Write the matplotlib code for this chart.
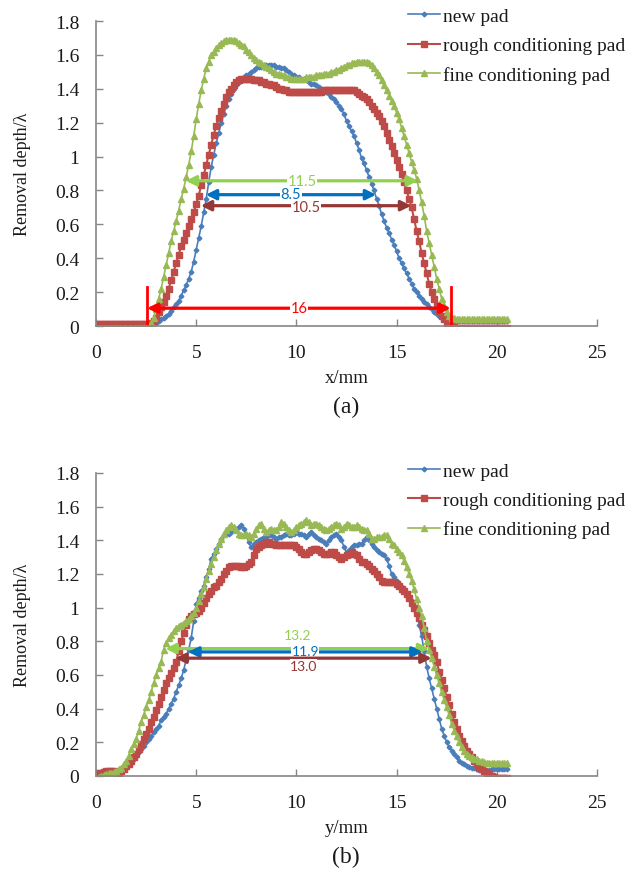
import numpy as np
import matplotlib
matplotlib.use("Agg")
import matplotlib.pyplot as plt

plt.rcParams['font.family'] = ['Liberation Serif', 'DejaVu Serif']

# ---------------- data ----------------
x_mm = np.arange(0, 20.501, 0.125)   # sampling positions (mm), 165 points

a_new = [0.01, 0.01, 0.01, 0.01, 0.01, 0.01, 0.01, 0.01,
         0.01, 0.01, 0.01, 0.01, 0.01, 0.01, 0.01, 0.01,
         0.01, 0.01, 0.01, 0.01, 0.01, 0.01, 0.01, 0.015,
         0.02, 0.03, 0.04, 0.05, 0.06, 0.07, 0.09, 0.11,
         0.13, 0.15, 0.18, 0.21, 0.24, 0.28, 0.32, 0.38,
         0.45, 0.52, 0.59, 0.67, 0.75, 0.85, 0.94, 1.01,
         1.08, 1.14, 1.20, 1.25, 1.30, 1.34, 1.37, 1.40,
         1.42, 1.44, 1.45, 1.47, 1.48, 1.49, 1.50, 1.51,
         1.52, 1.53, 1.53, 1.54, 1.54, 1.54, 1.54, 1.54,
         1.53, 1.53, 1.52, 1.52, 1.51, 1.50, 1.49, 1.48,
         1.47, 1.47, 1.46, 1.46, 1.45, 1.44, 1.43, 1.43,
         1.42, 1.41, 1.40, 1.39, 1.38, 1.37, 1.35, 1.34,
         1.32, 1.30, 1.28, 1.25, 1.21, 1.18, 1.15, 1.12,
         1.08, 1.04, 0.99, 0.96, 0.92, 0.88, 0.84, 0.80,
         0.75, 0.71, 0.66, 0.62, 0.58, 0.55, 0.51, 0.48,
         0.44, 0.40, 0.37, 0.34, 0.31, 0.28, 0.25, 0.22,
         0.20, 0.18, 0.16, 0.14, 0.13, 0.11, 0.10, 0.08,
         0.07, 0.06, 0.05, 0.045, 0.04, 0.035, 0.03, 0.03,
         0.03, 0.03, 0.03, 0.03, 0.03, 0.03, 0.03, 0.03,
         0.03, 0.03, 0.03, 0.03, 0.03, 0.03, 0.03, 0.03,
         0.03, 0.03, 0.03, 0.03, 0.03]
a_rough = [0.01, 0.01, 0.01, 0.01, 0.01, 0.01, 0.01, 0.01,
           0.01, 0.01, 0.01, 0.01, 0.01, 0.01, 0.01, 0.01,
           0.01, 0.01, 0.01, 0.01, 0.01, 0.01, 0.02, 0.03,
           0.05, 0.08, 0.11, 0.14, 0.18, 0.22, 0.27, 0.32,
           0.37, 0.42, 0.47, 0.51, 0.55, 0.59, 0.63, 0.67,
           0.72, 0.77, 0.83, 0.89, 0.95, 1.01, 1.07, 1.13,
           1.18, 1.23, 1.27, 1.31, 1.35, 1.38, 1.40, 1.42,
           1.44, 1.45, 1.46, 1.46, 1.46, 1.46, 1.46, 1.45,
           1.45, 1.45, 1.44, 1.44, 1.43, 1.43, 1.42, 1.42,
           1.41, 1.40, 1.40, 1.39, 1.39, 1.38, 1.38, 1.38,
           1.38, 1.38, 1.38, 1.38, 1.38, 1.38, 1.38, 1.38,
           1.38, 1.38, 1.38, 1.39, 1.39, 1.39, 1.39, 1.39,
           1.39, 1.39, 1.39, 1.39, 1.39, 1.39, 1.39, 1.39,
           1.38, 1.37, 1.36, 1.35, 1.34, 1.32, 1.30, 1.28,
           1.26, 1.24, 1.21, 1.18, 1.14, 1.10, 1.06, 1.02,
           0.98, 0.94, 0.90, 0.85, 0.80, 0.75, 0.70, 0.63,
           0.56, 0.50, 0.43, 0.37, 0.31, 0.25, 0.20, 0.16,
           0.12, 0.09, 0.06, 0.04, 0.02, 0.01, 0.00, -0.005,
           -0.01, -0.01, -0.01, -0.01, -0.01, -0.01, -0.01, -0.01,
           -0.01, -0.01, -0.01, -0.01, -0.01, -0.01, -0.01, -0.01,
           -0.01, -0.01, -0.01, -0.01, -0.01]
a_fine = [-0.01, -0.01, -0.01, -0.01, -0.01, -0.01, -0.01, -0.01,
          -0.01, -0.01, -0.01, -0.01, -0.01, -0.01, -0.01, -0.01,
          -0.01, -0.01, -0.01, -0.01, -0.01, -0.005, 0.02, 0.05,
          0.10, 0.16, 0.22, 0.29, 0.36, 0.43, 0.50, 0.56,
          0.62, 0.68, 0.75, 0.81, 0.88, 0.95, 1.03, 1.12,
          1.22, 1.31, 1.39, 1.46, 1.52, 1.56, 1.60, 1.62,
          1.64, 1.66, 1.67, 1.68, 1.69, 1.69, 1.69, 1.69,
          1.68, 1.67, 1.66, 1.65, 1.63, 1.62, 1.60, 1.58,
          1.57, 1.56, 1.55, 1.54, 1.53, 1.52, 1.51, 1.50,
          1.49, 1.49, 1.48, 1.48, 1.47, 1.47, 1.46, 1.46,
          1.46, 1.46, 1.46, 1.46, 1.47, 1.47, 1.47, 1.47,
          1.48, 1.48, 1.48, 1.49, 1.49, 1.49, 1.50, 1.50,
          1.51, 1.51, 1.52, 1.53, 1.54, 1.54, 1.55, 1.55,
          1.56, 1.56, 1.56, 1.56, 1.56, 1.55, 1.54, 1.52,
          1.50, 1.48, 1.45, 1.42, 1.39, 1.36, 1.33, 1.30,
          1.26, 1.22, 1.17, 1.12, 1.07, 1.02, 0.97, 0.92,
          0.87, 0.80, 0.73, 0.65, 0.56, 0.49, 0.42, 0.35,
          0.28, 0.22, 0.16, 0.12, 0.08, 0.06, 0.05, 0.045,
          0.04, 0.04, 0.04, 0.04, 0.04, 0.04, 0.04, 0.04,
          0.04, 0.04, 0.04, 0.04, 0.04, 0.04, 0.04, 0.04,
          0.04, 0.04, 0.04, 0.04, 0.04]

b_new = [0.01, 0.01, 0.01, 0.01, 0.01, 0.015, 0.02, 0.02,
         0.02, 0.025, 0.03, 0.04, 0.06, 0.07, 0.09, 0.10,
         0.12, 0.14, 0.16, 0.18, 0.20, 0.22, 0.24, 0.26,
         0.28, 0.30, 0.33, 0.35, 0.37, 0.40, 0.43, 0.46,
         0.50, 0.54, 0.58, 0.63, 0.69, 0.75, 0.82, 0.92,
         1.02, 1.06, 1.10, 1.13, 1.18, 1.23, 1.29, 1.32,
         1.35, 1.38, 1.41, 1.43, 1.44, 1.44, 1.45, 1.46,
         1.47, 1.48, 1.49, 1.47, 1.43, 1.39, 1.36, 1.38,
         1.39, 1.40, 1.41, 1.42, 1.42, 1.43, 1.43, 1.42,
         1.41, 1.42, 1.42, 1.43, 1.44, 1.43, 1.43, 1.44,
         1.45, 1.44, 1.44, 1.43, 1.42, 1.44, 1.45, 1.43,
         1.42, 1.41, 1.40, 1.39, 1.38, 1.40, 1.42, 1.43,
         1.44, 1.42, 1.40, 1.36, 1.33, 1.34, 1.36, 1.37,
         1.37, 1.38, 1.38, 1.40, 1.42, 1.40, 1.38, 1.36,
         1.34, 1.33, 1.32, 1.31, 1.29, 1.25, 1.20, 1.18,
         1.16, 1.14, 1.12, 1.10, 1.08, 1.06, 1.04, 1.01,
         0.97, 0.90, 0.83, 0.74, 0.65, 0.58, 0.52, 0.46,
         0.40, 0.34, 0.28, 0.24, 0.20, 0.17, 0.15, 0.13,
         0.11, 0.09, 0.08, 0.07, 0.06, 0.055, 0.05, 0.045,
         0.04, 0.035, 0.03, 0.03, 0.03, 0.035, 0.04, 0.04,
         0.04, 0.04, 0.04, 0.04, 0.04]
b_rough = [0.01, 0.015, 0.02, 0.025, 0.03, 0.03, 0.03, 0.03,
           0.02, 0.02, 0.03, 0.04, 0.06, 0.07, 0.09, 0.11,
           0.13, 0.16, 0.19, 0.22, 0.25, 0.28, 0.32, 0.35,
           0.39, 0.43, 0.47, 0.51, 0.55, 0.58, 0.61, 0.64,
           0.68, 0.74, 0.80, 0.85, 0.90, 0.93, 0.95, 0.96,
           0.97, 0.98, 1.00, 1.03, 1.06, 1.08, 1.10, 1.12,
           1.13, 1.15, 1.17, 1.20, 1.22, 1.24, 1.25, 1.25,
           1.25, 1.25, 1.24, 1.24, 1.25, 1.26, 1.27, 1.31,
           1.35, 1.36, 1.37, 1.38, 1.39, 1.39, 1.38, 1.38,
           1.37, 1.37, 1.37, 1.37, 1.37, 1.37, 1.37, 1.37,
           1.36, 1.35, 1.33, 1.32, 1.32, 1.33, 1.34, 1.35,
           1.35, 1.34, 1.33, 1.32, 1.32, 1.32, 1.33, 1.33,
           1.31, 1.30, 1.29, 1.30, 1.31, 1.32, 1.33, 1.32,
           1.31, 1.29, 1.27, 1.27, 1.26, 1.25, 1.23, 1.22,
           1.20, 1.18, 1.16, 1.15, 1.15, 1.15, 1.15, 1.15,
           1.14, 1.13, 1.11, 1.10, 1.08, 1.06, 1.03, 1.00,
           0.97, 0.94, 0.90, 0.87, 0.83, 0.79, 0.75, 0.72,
           0.68, 0.62, 0.57, 0.52, 0.47, 0.42, 0.37, 0.32,
           0.28, 0.24, 0.21, 0.18, 0.15, 0.13, 0.11, 0.09,
           0.07, 0.05, 0.04, 0.03, 0.02, 0.01, 0.00, -0.005,
           -0.01, -0.01, -0.01, -0.01, -0.01]
b_fine = [-0.01, -0.005, 0.0, 0.005, 0.01, 0.015, 0.02, 0.025,
          0.03, 0.04, 0.05, 0.07, 0.09, 0.12, 0.16, 0.19,
          0.22, 0.27, 0.32, 0.36, 0.41, 0.45, 0.50, 0.55,
          0.60, 0.64, 0.68, 0.75, 0.79, 0.82, 0.84, 0.86,
          0.88, 0.89, 0.90, 0.91, 0.92, 0.93, 0.95, 0.97,
          1.00, 1.04, 1.08, 1.12, 1.17, 1.22, 1.26, 1.30,
          1.34, 1.38, 1.41, 1.44, 1.46, 1.48, 1.49, 1.48,
          1.46, 1.44, 1.43, 1.43, 1.44, 1.43, 1.42, 1.44,
          1.47, 1.49, 1.50, 1.47, 1.45, 1.46, 1.47, 1.46,
          1.46, 1.48, 1.51, 1.50, 1.48, 1.46, 1.45, 1.46,
          1.48, 1.49, 1.50, 1.51, 1.52, 1.51, 1.49, 1.50,
          1.50, 1.49, 1.48, 1.47, 1.46, 1.47, 1.48, 1.49,
          1.50, 1.49, 1.47, 1.48, 1.50, 1.49, 1.48, 1.48,
          1.49, 1.48, 1.47, 1.46, 1.46, 1.44, 1.41, 1.41,
          1.42, 1.42, 1.42, 1.43, 1.43, 1.41, 1.38, 1.37,
          1.35, 1.33, 1.31, 1.28, 1.24, 1.20, 1.16, 1.11,
          1.05, 1.00, 0.95, 0.88, 0.80, 0.75, 0.70, 0.65,
          0.60, 0.55, 0.50, 0.45, 0.41, 0.36, 0.31, 0.27,
          0.24, 0.20, 0.17, 0.15, 0.13, 0.12, 0.11, 0.10,
          0.10, 0.09, 0.09, 0.085, 0.08, 0.08, 0.08, 0.08,
          0.08, 0.08, 0.08, 0.08, 0.08]

series_labels = ["new pad", "rough conditioning pad", "fine conditioning pad"]

# width arrows: (x_start, x_end, y, label, label_y, colour)
a_arrows = [(4.48, 16.07, 0.857, "11.5", 0.857, "#92D050"),
            (5.48, 13.98, 0.775, "8.5", 0.780, "#0070C0"),
            (5.23, 15.73, 0.710, "10.5", 0.700, "#953735"),
            (2.55, 17.70, 0.105, "16", 0.105, "#FF0000")]
b_arrows = [(3.46, 16.63, 0.757, "13.2", 0.835, "#92D050"),
            (4.60, 16.30, 0.737, "11.9", 0.745, "#0070C0"),
            (3.96, 16.75, 0.700, "13.0", 0.655, "#953735")]
a_bars = [2.55, 17.70]   # red vertical limits in (a)

# ---------------- figure ----------------
W, H = 641, 878
fig = plt.figure(figsize=(W / 100, H / 100), dpi=100)

styles = [dict(color="#4A7EBB", marker="D", markersize=2.4, lw=1.2),
          dict(color="#BE4B48", marker="s", markersize=5.0, lw=1.5),
          dict(color="#98B954", marker="^", markersize=5.0, lw=1.2)]


def make_axes(bottom_px, top_px):
    return fig.add_axes([96 / W, 1 - bottom_px / H, (597 - 96) / W, (bottom_px - top_px) / H])


def draw(ax, data, arrows, xlabel, leg_top_px, bars=None, label_size=10.5):
    for d, st, lab in zip(data, styles, series_labels):
        ax.plot(x_mm[:len(d)], d, label=lab, **st)
    ax.set_xlim(0, 25)
    ax.set_ylim(0, 1.8)
    ax.set_xticks([0, 5, 10, 15, 20, 25])
    ax.set_yticks([0, 0.2, 0.4, 0.6, 0.8, 1.0, 1.2, 1.4, 1.6, 1.8])
    ax.set_yticklabels(["0", "0.2", "0.4", "0.6", "0.8", "1", "1.2", "1.4", "1.6", "1.8"])
    for s in ("top", "right"):
        ax.spines[s].set_visible(False)
    for s in ("left", "bottom"):
        ax.spines[s].set_color("#868686")
        ax.spines[s].set_linewidth(1.2)
    ax.tick_params(direction="in", length=5, width=1.0, color="#868686",
                   labelsize=14, labelcolor="#1a1a1a")
    ax.tick_params(axis="x", pad=13)
    ax.tick_params(axis="y", pad=12)
    ax.set_xlabel(xlabel, fontsize=13.5, labelpad=6, color="#1a1a1a")
    ax.set_ylabel("Removal depth/\u03bb", fontsize=13, labelpad=17, color="#1a1a1a")
    ax.patch.set_alpha(0)
    if bars is not None:
        for xb in bars:
            ax.plot([xb, xb], [0.01, 0.23], color="#FF0000", lw=2, clip_on=False)
    for x1, x2, y, lab, ly, c in arrows:
        ax.annotate("", xy=(x2, y), xytext=(x1, y),
                    arrowprops=dict(arrowstyle="<|-|>", color=c, lw=2.3,
                                    mutation_scale=15, shrinkA=0, shrinkB=0))
        ax.text((x1 + x2) / 2, ly, lab, ha="center", va="center", color=c,
                fontsize=label_size, family=["Lato", "DejaVu Sans"],
                bbox=dict(fc="white", ec="none", pad=0.2))
    leg = ax.legend(loc="upper left", bbox_to_anchor=(408 / W, 1 - leg_top_px / H),
                    bbox_transform=fig.transFigure, frameon=False, fontsize=14,
                    handlelength=1.65, handletextpad=0.15, labelspacing=0.6,
                    borderpad=0, borderaxespad=0)
    for t in leg.get_texts():
        t.set_color("#1a1a1a")
    return ax


ax1 = make_axes(327, 22)
draw(ax1, [a_new, a_rough, a_fine], a_arrows, "x/mm", 8.5, bars=a_bars)
fig.text(346 / W, 1 - 407 / H, "(a)", ha="center", va="center", fontsize=17, color="#1a1a1a")

ax2 = make_axes(777, 474)
draw(ax2, [b_new, b_rough, b_fine], b_arrows, "y/mm", 463, label_size=10)
fig.text(346 / W, 1 - 857 / H, "(b)", ha="center", va="center", fontsize=17, color="#1a1a1a")

fig.savefig("out.png", dpi=100)
